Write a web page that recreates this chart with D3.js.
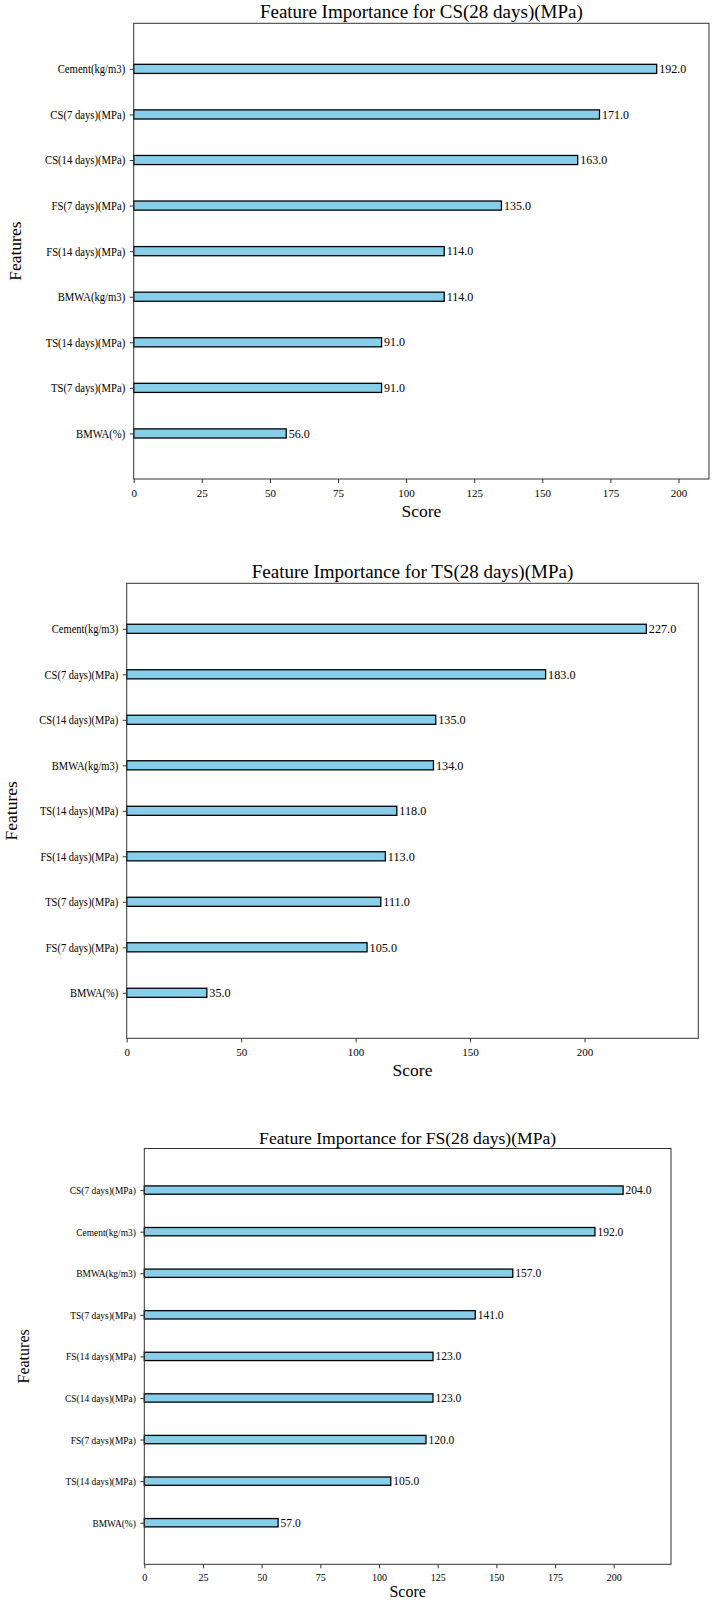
<!DOCTYPE html>
<html lang="en">
<head>
<meta charset="utf-8">
<title>Feature Importance</title>
<style>
  body { margin: 0; background: #fff; }
  svg { display: block; }
  text { font-family: "Liberation Serif", "Times New Roman", serif; fill: #000; }
  .frame { fill: none; stroke: #333; stroke-width: 1; }
  .bar { fill: #87ceeb; stroke: #000; stroke-width: 1.3; }
  .tick line { stroke: #333; stroke-width: 1; }
</style>
</head>
<body>
<div id="chart"></div>
<script src="https://d3js.org/d3.v7.min.js"></script>
<script>
// data (top bar first)
var csTitle = "Feature Importance for CS(28 days)(MPa)";
var csFeatures = ["Cement(kg/m3)", "CS(7 days)(MPa)", "CS(14 days)(MPa)", "FS(7 days)(MPa)", "FS(14 days)(MPa)",
                  "BMWA(kg/m3)", "TS(14 days)(MPa)", "TS(7 days)(MPa)", "BMWA(%)"];
var csScores = [192, 171, 163, 135, 114, 114, 91, 91, 56];
var csTicks = [0, 25, 50, 75, 100, 125, 150, 175, 200];

var tsTitle = "Feature Importance for TS(28 days)(MPa)";
var tsFeatures = ["Cement(kg/m3)", "CS(7 days)(MPa)", "CS(14 days)(MPa)", "BMWA(kg/m3)", "TS(14 days)(MPa)",
                  "FS(14 days)(MPa)", "TS(7 days)(MPa)", "FS(7 days)(MPa)", "BMWA(%)"];
var tsScores = [227, 183, 135, 134, 118, 113, 111, 105, 35];
var tsTicks = [0, 50, 100, 150, 200];

var fsTitle = "Feature Importance for FS(28 days)(MPa)";
var fsFeatures = ["CS(7 days)(MPa)", "Cement(kg/m3)", "BMWA(kg/m3)", "TS(7 days)(MPa)", "FS(14 days)(MPa)",
                  "CS(14 days)(MPa)", "FS(7 days)(MPa)", "TS(14 days)(MPa)", "BMWA(%)"];
var fsScores = [204, 192, 157, 141, 123, 123, 120, 105, 57];
var fsTicks = [0, 25, 50, 75, 100, 125, 150, 175, 200];

var width = 712, height = 1602;

// where each figure sits on the page; the y tick labels are drawn a bit condensed
var panels = [
  { title: csTitle, features: csFeatures, scores: csScores, ticks: csTicks,
    left: 133.7, right: 709, top: 23.3, bottom: 479,
    fTitle: 19, fY: 12.4, sxY: 0.86, fX: 11, fVal: 12, fLab: 17.5, ylabelX: 21, scoreDy: 38 },
  { title: tsTitle, features: tsFeatures, scores: tsScores, ticks: tsTicks,
    left: 126.7, right: 698.3, top: 583.3, bottom: 1038.3,
    fTitle: 19, fY: 12.2, sxY: 0.86, fX: 11, fVal: 12.2, fLab: 17.5, ylabelX: 17, scoreDy: 38 },
  { title: fsTitle, features: fsFeatures, scores: fsScores, ticks: fsTicks,
    left: 144.3, right: 671, top: 1148.5, bottom: 1564.3,
    fTitle: 17.6, fY: 11.2, sxY: 0.84, fX: 10, fVal: 11.5, fLab: 16, ylabelX: 29, scoreDy: 33 }
];

var svg = d3.select("#chart")
    .append("svg")
    .attr("width", width)
    .attr("height", height);

svg.append("rect")
    .attr("width", width)
    .attr("height", height)
    .attr("fill", "#fff");

panels.forEach(function(p) {
  var n = p.features.length;
  var maxScore = d3.max(p.scores);

  // xgboost style limits: x up to 1.1 * max, y from -1 to n
  var x = d3.scaleLinear()
      .domain([0, maxScore * 1.1])
      .range([p.left, p.right]);

  var y = d3.scaleLinear()
      .domain([-1, n])
      .range([p.bottom, p.top]);

  var rows = p.features.map(function(f, i) {
    return { feature: f, score: p.scores[i], pos: n - 1 - i };
  });

  var g = svg.append("g");

  g.selectAll("rect.bar")
      .data(rows)
    .enter().append("rect")
      .attr("class", "bar")
      .attr("x", x(0))
      .attr("y", function(d) { return y(d.pos + 0.1); })
      .attr("width", function(d) { return x(d.score) - x(0); })
      .attr("height", function(d) { return y(d.pos - 0.1) - y(d.pos + 0.1); });

  g.selectAll("text.val")
      .data(rows)
    .enter().append("text")
      .attr("class", "val")
      .attr("x", function(d) { return x(d.score) + 2.5; })
      .attr("y", function(d) { return y(d.pos); })
      .attr("dy", "0.35em")
      .style("font-size", p.fVal + "px")
      .text(function(d) { return d.score.toFixed(1); });

  var xAxis = g.append("g")
      .attr("transform", "translate(0," + p.bottom + ")")
      .call(d3.axisBottom(x).tickValues(p.ticks).tickSize(4).tickPadding(6).tickFormat(d3.format("d")));
  xAxis.select(".domain").remove();
  xAxis.selectAll("text").style("font-size", p.fX + "px");

  var yAxis = g.append("g")
      .attr("transform", "translate(" + p.left + ",0)")
      .call(d3.axisLeft(y)
        .tickValues(rows.map(function(d) { return d.pos; }))
        .tickFormat(function(v) { return p.features[n - 1 - v]; })
        .tickSize(4).tickPadding(4.5));
  yAxis.select(".domain").remove();
  yAxis.selectAll("text")
      .style("font-size", p.fY + "px")
      .each(function() {
        var t = d3.select(this);
        var tx = +t.attr("x");
        t.attr("x", 0).attr("transform", "translate(" + tx + ",0) scale(" + p.sxY + ",1)");
      });

  g.append("rect")
      .attr("class", "frame")
      .attr("x", p.left)
      .attr("y", p.top)
      .attr("width", p.right - p.left)
      .attr("height", p.bottom - p.top);

  var cx = (p.left + p.right) / 2;

  g.append("text")
      .attr("x", cx)
      .attr("y", p.top - 5)
      .attr("text-anchor", "middle")
      .style("font-size", p.fTitle + "px")
      .text(p.title);

  g.append("text")
      .attr("x", cx)
      .attr("y", p.bottom + p.scoreDy)
      .attr("text-anchor", "middle")
      .style("font-size", p.fLab + "px")
      .text("Score");

  g.append("text")
      .attr("transform", "translate(" + p.ylabelX + "," + (p.top + p.bottom) / 2 + ") rotate(-90)")
      .attr("text-anchor", "middle")
      .style("font-size", p.fLab + "px")
      .text("Features");
});
</script>
</body>
</html>
